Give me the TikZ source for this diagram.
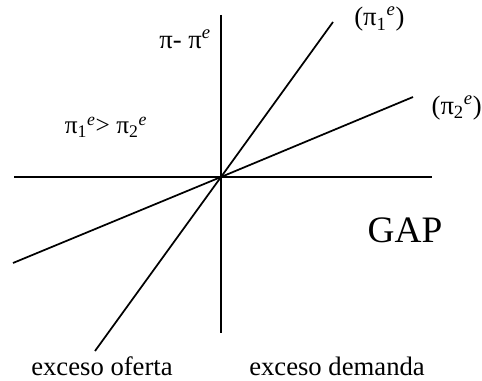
\documentclass[tikz,border=0pt]{standalone}
\usepackage{fontspec}
\setmainfont{Liberation Serif}
\newcommand{\piexp}[1]{π\textsubscript{#1}\textsuperscript{\itshape e}}
\begin{document}
\begin{tikzpicture}[x=0.75pt, y=-0.75pt, line width=1.3pt, font=\fontsize{20}{23}\selectfont]
	\useasboundingbox (0,0) rectangle (482,381);
	
	% Ejes
	\coordinate (O) at (221,177);
	\draw (221,15) -- (221,333);
	\draw (14,177) -- (432,177);
	\node (eje) at (185,39) {π- π\textsuperscript{\itshape e}};
	
	% Rectas de Phillips
	\draw (95,351) -- (O) -- (333,22) node[right=12pt, yshift=2pt] (r1) {(\piexp{1})};
	\draw (13,263) -- (O) -- (413,97) node[anchor=west, xshift=10pt, yshift=-8pt] (r2) {(\piexp{2})};
	
	% Etiquetas
	\node[font=\fontsize{19}{22}\selectfont] (comp) at (106,127) {\piexp{1}> \piexp{2}};
	\node[font=\fontsize{28}{32}\selectfont] (gap) at (405,230) {GAP};
	\node (oferta) at (102,366) {exceso oferta};
	\node (demanda) at (337,366) {exceso demanda};
\end{tikzpicture}
\end{document}
